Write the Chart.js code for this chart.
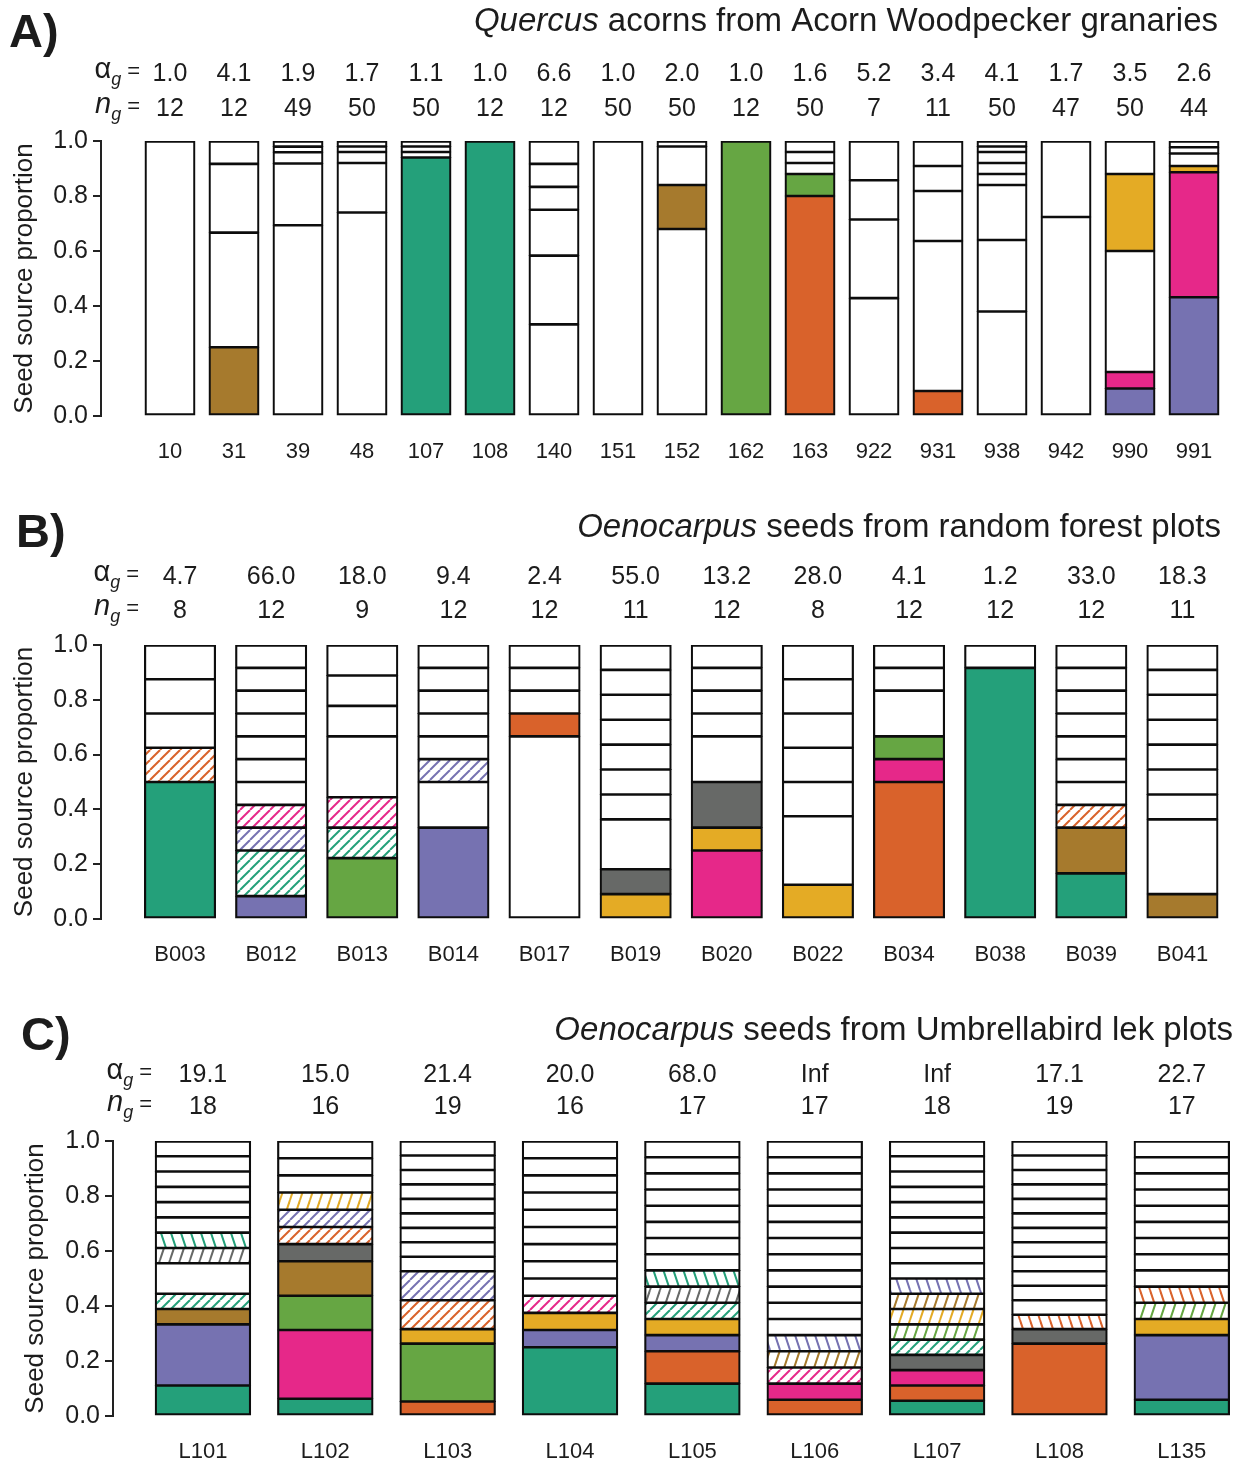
<!DOCTYPE html>
<html>
<head>
<meta charset="utf-8">
<script src="https://cdn.jsdelivr.net/npm/chart.js@4.4.0/dist/chart.umd.min.js"></script>
<style>
  body { margin: 0; background: #fff; }
  #wrap { position: relative; width: 1248px; height: 1464px; }
  canvas { position: absolute; left: 0; }
</style>
</head>
<body>
<div id="wrap">
  <canvas id="chartA" width="1248" height="490" style="top:0px"></canvas>
  <canvas id="chartB" width="1248" height="500" style="top:490px"></canvas>
  <canvas id="chartC" width="1248" height="474" style="top:990px"></canvas>
</div>
<script>
// ---- data ----
// each bar: segments from the bottom up, [count out of n_g, fill]
// fill: w = white, G teal, O orange, P purple, K pink, L green, Y yellow, B brown, D grey
// a second char means hatched: '/' 45 deg, 'f' steep forward, 'b' steep back
const propTicks = [0, 0.2, 0.4, 0.6, 0.8, 1.0];

const granaryIds = ['10', '31', '39', '48', '107', '108', '140', '151', '152', '162', '163', '922', '931', '938', '942', '990', '991'];
const granaryAlpha = ['1.0', '4.1', '1.9', '1.7', '1.1', '1.0', '6.6', '1.0', '2.0', '1.0', '1.6', '5.2', '3.4', '4.1', '1.7', '3.5', '2.6'];
const granaryN = [12, 12, 49, 50, 50, 12, 12, 50, 50, 12, 50, 7, 11, 50, 47, 50, 44];
const granarySegs = [
  [[12, 'w']],
  [[3, 'B'], [5, 'w'], [3, 'w'], [1, 'w']],
  [[34, 'w'], [11, 'w'], [2, 'w'], [1, 'w'], [1, 'w']],
  [[37, 'w'], [9, 'w'], [2, 'w'], [1, 'w'], [1, 'w']],
  [[47, 'G'], [1, 'w'], [1, 'w'], [1, 'w']],
  [[12, 'G']],
  [[4, 'w'], [3, 'w'], [2, 'w'], [1, 'w'], [1, 'w'], [1, 'w']],
  [[50, 'w']],
  [[34, 'w'], [8, 'B'], [7, 'w'], [1, 'w']],
  [[12, 'L']],
  [[40, 'O'], [4, 'L'], [2, 'w'], [2, 'w'], [2, 'w']],
  [[3, 'w'], [2, 'w'], [1, 'w'], [1, 'w']],
  [[1, 'O'], [6, 'w'], [2, 'w'], [1, 'w'], [1, 'w']],
  [[19, 'w'], [13, 'w'], [10, 'w'], [2, 'w'], [2, 'w'], [2, 'w'], [1, 'w'], [1, 'w']],
  [[34, 'w'], [13, 'w']],
  [[5, 'P'], [3, 'K'], [22, 'w'], [14, 'Y'], [6, 'w']],
  [[19, 'P'], [20, 'K'], [1, 'Y'], [2, 'w'], [1, 'w'], [1, 'w']]
];

const forestIds = ['B003', 'B012', 'B013', 'B014', 'B017', 'B019', 'B020', 'B022', 'B034', 'B038', 'B039', 'B041'];
const forestAlpha = ['4.7', '66.0', '18.0', '9.4', '2.4', '55.0', '13.2', '28.0', '4.1', '1.2', '33.0', '18.3'];
const forestN = [8, 12, 9, 12, 12, 11, 12, 8, 12, 12, 12, 11];
const forestSegs = [
  [[4, 'G'], [1, 'O/'], [1, 'w'], [1, 'w'], [1, 'w']],
  [[1, 'P'], [2, 'G/'], [1, 'P/'], [1, 'K/'], [1, 'w'], [1, 'w'], [1, 'w'], [1, 'w'], [1, 'w'], [1, 'w'], [1, 'w']],
  [[2, 'L'], [1, 'G/'], [1, 'K/'], [2, 'w'], [1, 'w'], [1, 'w'], [1, 'w']],
  [[4, 'P'], [2, 'w'], [1, 'P/'], [1, 'w'], [1, 'w'], [1, 'w'], [1, 'w'], [1, 'w']],
  [[8, 'w'], [1, 'O'], [1, 'w'], [1, 'w'], [1, 'w']],
  [[1, 'Y'], [1, 'D'], [2, 'w'], [1, 'w'], [1, 'w'], [1, 'w'], [1, 'w'], [1, 'w'], [1, 'w'], [1, 'w']],
  [[3, 'K'], [1, 'Y'], [2, 'D'], [2, 'w'], [1, 'w'], [1, 'w'], [1, 'w'], [1, 'w']],
  [[1, 'Y'], [2, 'w'], [1, 'w'], [1, 'w'], [1, 'w'], [1, 'w'], [1, 'w']],
  [[6, 'O'], [1, 'K'], [1, 'L'], [2, 'w'], [1, 'w'], [1, 'w']],
  [[11, 'G'], [1, 'w']],
  [[2, 'G'], [2, 'B'], [1, 'O/'], [1, 'w'], [1, 'w'], [1, 'w'], [1, 'w'], [1, 'w'], [1, 'w'], [1, 'w']],
  [[1, 'B'], [3, 'w'], [1, 'w'], [1, 'w'], [1, 'w'], [1, 'w'], [1, 'w'], [1, 'w'], [1, 'w']]
];

const lekIds = ['L101', 'L102', 'L103', 'L104', 'L105', 'L106', 'L107', 'L108', 'L135'];
const lekAlpha = ['19.1', '15.0', '21.4', '20.0', '68.0', 'Inf', 'Inf', '17.1', '22.7'];
const lekN = [18, 16, 19, 16, 17, 17, 18, 19, 17];
const lekSegs = [
  [[2, 'G'], [4, 'P'], [1, 'B'], [1, 'G/'], [2, 'w'], [1, 'Df'], [1, 'Gb'], [1, 'w'], [1, 'w'], [1, 'w'], [1, 'w'], [1, 'w'], [1, 'w']],
  [[1, 'G'], [4, 'K'], [2, 'L'], [2, 'B'], [1, 'D'], [1, 'O/'], [1, 'P/'], [1, 'Yf'], [1, 'w'], [1, 'w'], [1, 'w']],
  [[1, 'O'], [4, 'L'], [1, 'Y'], [2, 'O/'], [2, 'P/'], [1, 'w'], [1, 'w'], [1, 'w'], [1, 'w'], [1, 'w'], [1, 'w'], [1, 'w'], [1, 'w'], [1, 'w']],
  [[4, 'G'], [1, 'P'], [1, 'Y'], [1, 'K/'], [1, 'w'], [1, 'w'], [1, 'w'], [1, 'w'], [1, 'w'], [1, 'w'], [1, 'w'], [1, 'w'], [1, 'w']],
  [[2, 'G'], [2, 'O'], [1, 'P'], [1, 'Y'], [1, 'G/'], [1, 'Df'], [1, 'Gb'], [1, 'w'], [1, 'w'], [1, 'w'], [1, 'w'], [1, 'w'], [1, 'w'], [1, 'w'], [1, 'w']],
  [[1, 'O'], [1, 'K'], [1, 'K/'], [1, 'Bf'], [1, 'Pb'], [1, 'w'], [1, 'w'], [1, 'w'], [1, 'w'], [1, 'w'], [1, 'w'], [1, 'w'], [1, 'w'], [1, 'w'], [1, 'w'], [1, 'w'], [1, 'w']],
  [[1, 'G'], [1, 'O'], [1, 'K'], [1, 'D'], [1, 'G/'], [1, 'Lf'], [1, 'Yf'], [1, 'Bf'], [1, 'Pb'], [1, 'w'], [1, 'w'], [1, 'w'], [1, 'w'], [1, 'w'], [1, 'w'], [1, 'w'], [1, 'w'], [1, 'w']],
  [[5, 'O'], [1, 'D'], [1, 'Ob'], [1, 'w'], [1, 'w'], [1, 'w'], [1, 'w'], [1, 'w'], [1, 'w'], [1, 'w'], [1, 'w'], [1, 'w'], [1, 'w'], [1, 'w'], [1, 'w']],
  [[1, 'G'], [4, 'P'], [1, 'Y'], [1, 'Lf'], [1, 'Ob'], [1, 'w'], [1, 'w'], [1, 'w'], [1, 'w'], [1, 'w'], [1, 'w'], [1, 'w'], [1, 'w'], [1, 'w']]
];

const palette = {
  w: '#ffffff', G: '#24a07a', O: '#d9622b', P: '#7672b1', K: '#e62889',
  L: '#66a643', Y: '#e4ab25', B: '#a67a2d', D: '#676967'
};

const FONT = '"Liberation Sans", Arial, Helvetica, sans-serif';
const INK = '#1c1c1c';
Chart.defaults.font.family = FONT;
Chart.defaults.color = INK;

function makeHatch(ctx, color, style) {
  const w = 10, h = style === '/' ? 10 : 30;
  const tile = document.createElement('canvas');
  tile.width = w; tile.height = h;
  const g = tile.getContext('2d');
  g.fillStyle = '#fff';
  g.fillRect(0, 0, w, h);
  g.strokeStyle = color;
  g.lineWidth = 2;
  for (const dx of [-w, 0, w]) {
    g.beginPath();
    if (style === 'b') { g.moveTo(dx, 0); g.lineTo(dx + w, h); }
    else { g.moveTo(dx, h); g.lineTo(dx + w, 0); }
    g.stroke();
  }
  return ctx.createPattern(tile, 'repeat');
}

// header: panel letter, title, alpha_g and n_g rows
const headerPlugin = {
  id: 'header',
  afterDraw(chart, args, o) {
    const ctx = chart.ctx, xs = chart.scales.x;
    ctx.save();
    ctx.fillStyle = INK;
    ctx.textBaseline = 'alphabetic';

    ctx.textAlign = 'left';
    ctx.font = 'bold 47px ' + FONT;
    ctx.fillText(o.letter, o.letterX, o.letterY);

    ctx.textAlign = 'right';
    ctx.font = '33px ' + FONT;
    const restW = ctx.measureText(o.rest).width;
    ctx.fillText(o.rest, o.titleRight, o.titleY);
    ctx.font = 'italic 33px ' + FONT;
    ctx.fillText(o.genus, o.titleRight - restW, o.titleY);

    const rowLabel = (sym, italic, y) => {
      ctx.textAlign = 'right';
      ctx.font = '22px ' + FONT;
      ctx.fillText('=', o.labelRight, y - 3);
      const eqW = ctx.measureText('=').width;
      ctx.font = 'italic 18px ' + FONT;
      const gx = o.labelRight - eqW - 6;
      ctx.fillText('g', gx, y + 4);
      const gW = ctx.measureText('g').width;
      ctx.font = (italic ? 'italic ' : '') + '29px ' + FONT;
      ctx.fillText(sym, gx - gW, y - 3);
    };
    rowLabel('\u03b1', false, o.alphaY);
    rowLabel('n', true, o.nY);

    ctx.textAlign = 'center';
    ctx.font = '25px ' + FONT;
    o.alpha.forEach((a, i) => {
      const x = xs.getPixelForValue(i);
      ctx.fillText(a, x, o.alphaY);
      ctx.fillText(String(o.n[i]), x, o.nY);
    });
    ctx.restore();
  }
};

function panel(id, ids, alpha, n, segs, L) {
  const ctx = document.getElementById(id).getContext('2d');
  const cache = {};
  const paint = key => {
    if (key.length === 1) return palette[key];
    if (!cache[key]) cache[key] = makeHatch(ctx, palette[key[0]], key[1]);
    return cache[key];
  };

  const depth = Math.max(...segs.map(s => s.length));
  const datasets = [];
  for (let k = 0; k < depth; k++) {
    const data = [];
    segs.forEach((s, i) => {
      if (s[k]) data.push({ x: i, y: s[k][0] / n[i] });
    });
    datasets.push({
      data: data,
      backgroundColor: c => c.raw ? paint(segs[c.raw.x][k][1]) : '#fff',
      borderColor: '#0d0d0d',
      borderWidth: c => {
        if (!c.raw) return 2;
        const s = segs[c.raw.x];
        return { left: 2.2, right: 2.2, top: k === s.length - 1 ? 2.2 : 1.8, bottom: k === 0 ? 2.2 : 1.8 };
      },
      borderSkipped: false,
      inflateAmount: 0.5,
      barPercentage: 0.78,
      categoryPercentage: 1
    });
  }

  new Chart(ctx, {
    type: 'bar',
    data: { datasets: datasets },
    plugins: [headerPlugin],
    options: {
      responsive: false,
      animation: false,
      devicePixelRatio: 1,
      layout: { padding: { top: L.top, right: L.padRight, left: 0, bottom: 0 } },
      plugins: {
        legend: { display: false },
        tooltip: { enabled: false },
        header: {
          letter: L.letter, letterX: L.letterX, letterY: L.letterY,
          genus: L.genus, rest: L.rest, titleRight: L.titleRight, titleY: L.titleY,
          labelRight: L.labelRight, alphaY: L.alphaY, nY: L.nY,
          alpha: alpha, n: n
        }
      },
      scales: {
        x: {
          type: 'linear',
          stacked: true,
          offset: false,
          min: L.xMin,
          max: L.xMax,
          afterFit: s => { s.height = L.xHeight; },
          afterBuildTicks: s => { s.ticks = ids.map((c, i) => ({ value: i })); },
          grid: { display: false, drawTicks: false },
          border: { display: false },
          ticks: {
            autoSkip: false, maxRotation: 0, minRotation: 0, padding: 23,
            color: INK, font: { size: 22 },
            callback: v => ids[v]
          }
        },
        y: {
          stacked: true,
          min: 0,
          max: 1,
          afterFit: s => { s.width = L.axisX; },
          afterBuildTicks: s => { s.ticks = propTicks.map(v => ({ value: v })); },
          border: { display: true, color: '#222', width: 2 },
          grid: { drawOnChartArea: false, drawTicks: true, tickLength: 8, color: '#222', lineWidth: 2 },
          ticks: { padding: 5, color: INK, font: { size: 25 }, callback: v => v.toFixed(1) },
          title: {
            display: true, text: 'Seed source proportion', color: INK,
            font: { size: 26 }, padding: { top: L.yTitlePad, bottom: 0 }
          }
        }
      }
    }
  });
}

panel('chartA', granaryIds, granaryAlpha, granaryN, granarySegs, {
  top: 141, xHeight: 74, axisX: 101, padRight: 22, xMin: -1.078, xMax: 16.5,
  yTitlePad: 9, letter: 'A)', letterX: 9, letterY: 47,
  genus: 'Quercus', rest: ' acorns from Acorn Woodpecker granaries', titleRight: 1218, titleY: 31,
  labelRight: 140, alphaY: 81, nY: 116
});

panel('chartB', forestIds, forestAlpha, forestN, forestSegs, {
  top: 155, xHeight: 71, axisX: 101, padRight: 20, xMin: -0.867, xMax: 11.5,
  yTitlePad: 9, letter: 'B)', letterX: 16, letterY: 57,
  genus: 'Oenocarpus', rest: ' seeds from random forest plots', titleRight: 1221, titleY: 47,
  labelRight: 139, alphaY: 94, nY: 128
});

panel('chartC', lekIds, lekAlpha, lekN, lekSegs, {
  top: 151, xHeight: 48, axisX: 113, padRight: 5, xMin: -0.735, xMax: 8.5,
  yTitlePad: 20, letter: 'C)', letterX: 21, letterY: 60,
  genus: 'Oenocarpus', rest: ' seeds from Umbrellabird lek plots', titleRight: 1233, titleY: 50,
  labelRight: 152, alphaY: 92, nY: 124
});
</script>
</body>
</html>
